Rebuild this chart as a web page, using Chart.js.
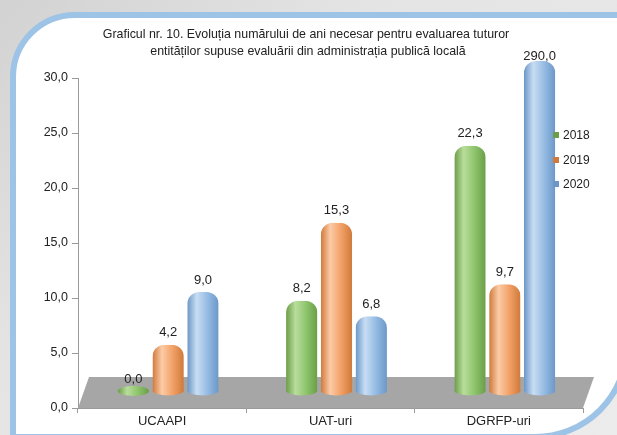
<!DOCTYPE html>
<html><head><meta charset="utf-8">
<script src="https://cdn.jsdelivr.net/npm/chart.js@4.4.0/dist/chart.umd.min.js"></script>
<style>
html,body{margin:0;padding:0;width:617px;height:435px;overflow:hidden;}
body{background:linear-gradient(135deg,#d2d2d2 0%,#e4e4e4 35%,#ececec 100%);position:relative;}
#panel{position:absolute;left:10px;top:12px;width:620px;height:428px;box-sizing:border-box;border:6px solid #9DC3E6;border-radius:65px 0 95px 0;background:#fff;}
canvas{position:absolute;left:0;top:0;}
</style></head><body>
<div id="panel"></div>
<canvas id="c" width="617" height="435"></canvas>
<script>
const categories = ['UCAAPI', 'UAT-uri', 'DGRFP-uri'];
const seriesNames = ['2018', '2019', '2020'];
const values2018 = [0.0, 8.2, 22.3];
const values2019 = [4.2, 15.3, 9.7];
const values2020 = [9.0, 6.8, 290.0];
const yTickValues = [0, 5, 10, 15, 20, 25, 30];
const titleLines = ['Graficul nr. 10. Evoluția numărului de ani necesar pentru evaluarea tuturor',
                    'entităților supuse evaluării din administrația publică locală'];

const FONT = '"Liberation Sans", Arial, sans-serif';
// palettes: [edge, highlight, base]
const palettes = [
  ['#6a9e48', '#b9dd9c', '#8dc46b'],
  ['#cf7a3c', '#fccba6', '#f2a066'],
  ['#6b97c8', '#c8ddf3', '#95bbe3']
];
const DEPTH_X = 6, DEPTH_Y = -17, CAP_R = 12;

function cylGrad(ctx, x, w, pal) {
  const g = ctx.createLinearGradient(x - w / 2, 0, x + w / 2, 0);
  g.addColorStop(0, pal[0]);
  g.addColorStop(0.3, pal[1]);
  g.addColorStop(0.65, pal[2]);
  g.addColorStop(1, pal[0]);
  return g;
}
function fmt(v) { return v.toFixed(1).replace('.', ','); }
function roundTopRect(ctx, x, y, w, h, r) {
  ctx.moveTo(x, y + h);
  ctx.lineTo(x, y + r);
  ctx.arcTo(x, y, x + r, y, r);
  ctx.lineTo(x + w - r, y);
  ctx.arcTo(x + w, y, x + w, y + r, r);
  ctx.lineTo(x + w, y + h);
  ctx.closePath();
}

const seriesValues = [values2018, values2019, values2020];
const datasets = seriesNames.map((name, i) => ({
  label: name,
  data: seriesValues[i],
  backgroundColor: (c) => {
    const pal = palettes[c.datasetIndex];
    const el = c.element;
    if (c.type !== 'data' || !el || !el.width) return pal[2];
    return cylGrad(c.chart.ctx, el.x, el.width, pal);
  },
  borderWidth: 0,
  borderRadius: CAP_R,
  clip: false,
  categoryPercentage: 0.62,
  barPercentage: 0.9
}));

const decor = {
  id: 'decor',
  beforeDraw(chart) {
    const ctx = chart.ctx;
    ctx.save();
    ctx.fillStyle = '#222';
    ctx.font = '12.4px ' + FONT;
    ctx.textAlign = 'center';
    ctx.textBaseline = 'middle';
    ctx.fillText(titleLines[0], 306, 35);
    ctx.fillText(titleLines[1], 308, 52);
    ctx.restore();
  },
  beforeDatasetsDraw(chart) {
    const ctx = chart.ctx, a = chart.chartArea;
    // 3D floor
    ctx.save();
    ctx.fillStyle = '#a6a6a6';
    ctx.beginPath();
    ctx.moveTo(a.left, a.bottom);
    ctx.lineTo(a.right, a.bottom);
    ctx.lineTo(a.right + 11, a.bottom - 31);
    ctx.lineTo(a.left + 11, a.bottom - 31);
    ctx.closePath();
    ctx.fill();
    ctx.restore();
    ctx.save();
    ctx.translate(DEPTH_X, DEPTH_Y);
    // rounded cylinder bottoms
    chart.data.datasets.forEach((ds, di) => {
      chart.getDatasetMeta(di).data.forEach((el) => {
        ctx.fillStyle = cylGrad(ctx, el.x, el.width, palettes[di]);
        ctx.beginPath();
        ctx.ellipse(el.x, el.base, el.width / 2, 5, 0, 0, Math.PI * 2);
        ctx.fill();
      });
    });
  },
  beforeDatasetDraw(chart, args) {
    // clip bars at the top of the plot, keeping a rounded cap on bars that overflow
    const ctx = chart.ctx, a = chart.chartArea;
    ctx.save();
    ctx.beginPath();
    args.meta.data.forEach((el) => {
      const x = el.x - el.width / 2;
      if (el.y < a.top) {
        roundTopRect(ctx, x, a.top, el.width, el.base - a.top + 1, CAP_R);
      } else {
        ctx.rect(x, el.y, el.width, el.base - el.y + 1);
      }
    });
    ctx.clip();
  },
  afterDatasetDraw(chart) {
    chart.ctx.restore();
  },
  afterDatasetsDraw(chart) {
    const ctx = chart.ctx, a = chart.chartArea;
    ctx.restore();
    ctx.save();
    ctx.fillStyle = '#222';
    ctx.font = '13px ' + FONT;
    ctx.textAlign = 'center';
    ctx.textBaseline = 'middle';
    chart.data.datasets.forEach((ds, di) => {
      chart.getDatasetMeta(di).data.forEach((el, i) => {
        const clipped = el.y < a.top;
        const top = Math.max(el.y, a.top) + DEPTH_Y;
        ctx.fillText(fmt(ds.data[i]), el.x + DEPTH_X, top - (clipped ? 5 : 12));
      });
    });
    // legend
    ctx.font = '12px ' + FONT;
    ctx.textAlign = 'left';
    const ly = [135, 160, 184];
    seriesNames.forEach((n, i) => {
      ctx.fillStyle = palettes[i][0];
      ctx.fillRect(553, ly[i] - 3, 6, 6);
      ctx.fillStyle = '#222';
      ctx.fillText(n, 563, ly[i] + 1);
    });
    ctx.restore();
  }
};

new Chart(document.getElementById('c'), {
  type: 'bar',
  data: { labels: categories, datasets },
  options: {
    responsive: false,
    animation: false,
    devicePixelRatio: 1,
    layout: { padding: { top: 78, left: 31, right: 34, bottom: 0 } },
    plugins: { legend: { display: false }, title: { display: false }, tooltip: { enabled: false } },
    scales: {
      x: {
        afterFit: (s) => { s.height = 27; },
        grid: { display: true, drawOnChartArea: false, tickLength: 5, color: '#9a9a9a', offset: true },
        border: { display: true, color: '#9a9a9a' },
        ticks: { color: '#222', font: { family: FONT, size: 13 }, padding: 1 }
      },
      y: {
        min: 0, max: 30,
        afterFit: (s) => { s.width = 47; },
        afterBuildTicks: (s) => { s.ticks = yTickValues.map(v => ({ value: v })); },
        grid: { display: true, drawOnChartArea: false, tickLength: 6, color: '#9a9a9a' },
        border: { display: true, color: '#9a9a9a' },
        ticks: { color: '#222', font: { family: FONT, size: 12.5 }, padding: 4, callback: (v) => fmt(v) }
      }
    }
  },
  plugins: [decor]
}).update('none');
</script>
</body></html>
